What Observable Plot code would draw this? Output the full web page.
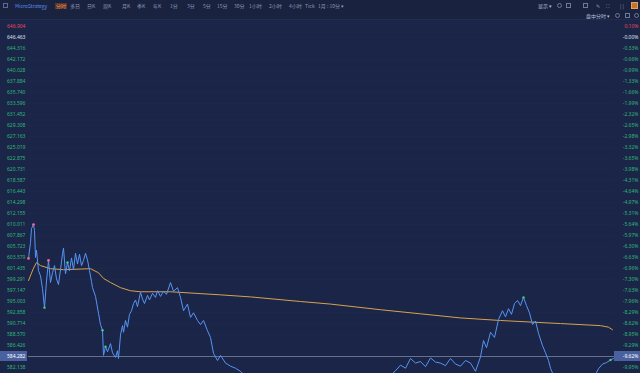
<!DOCTYPE html>
<html><head><meta charset="utf-8">
<script src="https://cdn.jsdelivr.net/npm/d3@7"></script>
<script src="https://cdn.jsdelivr.net/npm/@observablehq/plot@0.6"></script>
<style>
body{margin:0;background:#1b2548;width:640px;height:373px;overflow:hidden;font-family:"Noto Sans CJK SC","Noto Sans",sans-serif;}
#hdr{position:relative;height:20px;background:#19223f;box-sizing:border-box;border-bottom:1px solid #222c52;}
#hdr span{position:absolute;font-size:5px;line-height:6px;color:#8e98b8;white-space:nowrap;}
#chart{position:relative;height:353px;}
</style></head><body>
<div id="hdr"></div>
<div id="chart"></div>
<script>
// ---------- data ----------
const symbolName = "MicroStrategy";
const tabs = ["分时","多日","日K","周K","月K","季K","年K","1分","3分","5分","15分","30分","1小时","2小时","4小时","Tick","1月 : 10分 ▾"];
const rightTopLabels = ["显示 ▾", "盘中分时 ▾"];

// price line: [bar index, price]
const pricePts = [[0,603.4],[2,606.5],[3,609.2],[5,610.0],[6,608.8],[7,603.6],[8,605.0],[10,601.0],[12,600.0],[14,597.5],[16,593.8],[18,599.0],[20,603.0],[22,598.7],[24,600.6],[26,602.0],[28,599.4],[30,598.3],[32,601.2],[34,604.3],[35,605.4],[37,600.4],[39,602.6],[41,601.0],[43,603.5],[45,601.2],[47,604.4],[49,602.3],[51,604.2],[53,602.0],[55,603.0],[57,604.4],[59,603.1],[61,601.0],[63,598.9],[64,597.7],[67,596.0],[70,592.7],[72,590.5],[74,589.4],[75,584.5],[77,586.2],[79,585.2],[82,586.8],[84,585.0],[87,584.1],[89,585.4],[90,583.9],[92,588.5],[94,590.3],[95,589.0],[97,591.3],[99,590.0],[101,592.5],[103,593.2],[105,594.6],[107,595.3],[109,594.0],[112,596.8],[114,595.5],[116,594.6],[119,596.2],[121,595.3],[124,596.6],[127,595.8],[129,597.1],[132,596.0],[135,597.0],[138,596.4],[142,598.7],[145,597.0],[149,597.7],[152,595.8],[155,593.2],[159,594.5],[162,591.9],[165,592.8],[169,591.3],[172,590.5],[175,591.3],[179,589.3],[182,588.0],[185,584.9],[189,583.5],[192,584.5],[197,583.0],[202,582.4],[207,582.0],[212,581.4],[217,580.4],[222,579.6],[232,579.0],[252,578.6],[272,579.4],[292,578.9],[312,579.6],[332,578.7],[352,579.8],[362,580.6],[367,581.5],[372,582.6],[377,582.0],[382,583.9],[387,583.0],[392,583.3],[397,582.3],[402,584.0],[407,583.2],[412,583.0],[417,582.5],[422,583.9],[427,582.8],[432,582.4],[437,583.5],[442,583.0],[447,581.4],[452,584.2],[455,587.4],[458,586.0],[462,589.0],[466,588.0],[470,591.5],[474,593.2],[477,592.0],[480,593.6],[483,592.5],[486,594.6],[489,595.2],[492,594.2],[495,595.8],[498,594.2],[501,592.8],[504,590.5],[507,591.2],[510,588.8],[514,586.4],[517,585.0],[520,583.5],[522,582.0],[525,580.6],[532,579.6],[545,579.2],[558,579.8],[566,580.4],[570,581.9],[574,582.8],[578,583.1],[582,583.6],[585,583.9]];

// average price line
const avgPts = [[0,599.1],[5,601.5],[8,602.6],[12,602.0],[22,601.4],[35,601.2],[62,601.4],[70,600.6],[75,599.5],[82,598.7],[92,597.7],[102,597.1],[112,596.9],[142,596.9],[192,596.3],[222,595.9],[272,595.0],[302,594.5],[352,593.4],[392,592.6],[432,591.8],[472,591.3],[532,590.7],[572,590.3],[580,590.0],[584,589.5]];

const redMarks = [[0,603.4],[5,610.0],[20,603.0]];
const greenMarks = [[16,593.8],[39,602.6],[74,589.4],[77,586.2],[495,595.8],[582,583.6]];

const priceLabels = ["646.463","644.316","642.172","640.028","637.884","635.740","633.596","631.452","629.308","627.163","625.019","622.875","620.731","618.587","616.443","614.298","612.155","610.011","607.867","605.723","603.579","601.435","599.291","597.147","595.003","592.858","590.714","588.570","586.426","584.282","582.138"];
const pctLabels = ["-0.00%","-0.33%","-0.66%","-0.99%","-1.33%","-1.66%","-1.99%","-2.32%","-2.65%","-2.98%","-3.32%","-3.65%","-3.98%","-4.31%","-4.64%","-4.97%","-5.31%","-5.64%","-5.97%","-6.30%","-6.63%","-6.96%","-7.30%","-7.63%","-7.96%","-8.29%","-8.62%","-8.95%","-9.29%","-9.62%","-9.95%"];
const topPriceLabel = "646.904";
const topPctLabel = "0.10%";
const lastPrice = 584.282;
const lastIndex = 29; // row of lastPrice in the label lists

// ---------- header ----------
const hdr = d3.select("#hdr");
hdr.append("span").style("left","3px").style("top","3px").style("width","5px").style("height","5px")
  .style("border","1px solid #5d6890").style("box-sizing","border-box");
hdr.append("span").style("left","15px").style("top","3px").style("color","#5b8ef0").text(symbolName);
const tabLeft = [55,70,87,103,122,137,153,170,187,203,217,234,249,269,289,305,318];
tabs.forEach((t,i)=>{
  const s = hdr.append("span").style("left",tabLeft[i]+"px").style("top","3px").text(t);
  if(i===0) s.style("color","#ff8c3a").style("background","rgba(230,110,40,0.28)").style("padding","0 1px");
});
hdr.append("span").style("left","538px").style("top","3px").style("color","#b8c0da").text(rightTopLabels[0]);
hdr.append("span").style("left","586px").style("top","13px").style("color","#b8c0da").text(rightTopLabels[1]);
[[557,3,"50%"],[566,3,"0"],[583,3,"0"],[615,13,"50%"],[625,13,"0"],[634,13,"50%"]].forEach(([l,t,r])=>{
  hdr.append("span").style("left",l+"px").style("top",t+"px").style("width","5px").style("height","5px")
    .style("border","1px solid #6d789e").style("border-radius",r).style("box-sizing","border-box");
});
hdr.append("span").style("left","596px").style("top","3px").text("✎");
hdr.append("span").style("left","606px").style("top","3px").text("⛶");
hdr.append("span").style("left","620px").style("top","3px").text("| |");
hdr.append("span").style("left","631px").style("top","2px").style("width","7px").style("height","7px")
  .style("background","#c8742e").style("box-sizing","border-box").style("border","1px solid #e8a060");

// ---------- chart ----------
const tickVals = priceLabels.map(Number);
const green = "#2fb878";
const chart = Plot.plot({
  width: 640, height: 353,
  marginLeft: 28, marginRight: 26, marginTop: 0, marginBottom: 0,
  style: {background: "transparent", fontFamily: "'Noto Sans','DejaVu Sans',sans-serif", fontSize: "5px"},
  x: {domain: [0, 586], axis: null},
  y: {domain: [580.968, 649.777], axis: null},
  color: {type: "identity"},
  marks: [
    Plot.ruleY(tickVals, {stroke: "#202b52", strokeWidth: 0.5}),
    Plot.ruleY([lastPrice], {stroke: "#c9cfe0", strokeWidth: 0.6, strokeOpacity: 0.75}),
    Plot.line(avgPts, {x: d=>d[0], y: d=>d[1], stroke: "#d8a24c", strokeWidth: 1, clip: true}),
    Plot.line(pricePts, {x: d=>d[0], y: d=>d[1], stroke: "#5594f5", strokeWidth: 1, clip: true}),
    Plot.dot(redMarks, {x: d=>d[0], y: d=>d[1], r: 1.4, fill: "#f06a86"}),
    Plot.dot(greenMarks, {x: d=>d[0], y: d=>d[1], r: 1.2, fill: "#3fd08a"}),
    Plot.text(priceLabels, {y: d=>+d, text: d=>d, frameAnchor: "left", dx: -3, textAnchor: "end",
      fill: (d,i)=> i===0 ? "#dfe3ee" : (i===lastIndex ? "#ffffff" : green)}),
    Plot.text(pctLabels, {y: (d,i)=>tickVals[i], text: d=>d, frameAnchor: "right", dx: 24, textAnchor: "end",
      fill: (d,i)=> i===0 ? "#dfe3ee" : (i===lastIndex ? "#ffffff" : green)}),
    Plot.text([topPriceLabel], {text: d=>d, frameAnchor: "top-left", dx: -3, dy: 6, textAnchor: "end", lineAnchor: "middle", fill: "#e5475b"}),
    Plot.text([topPctLabel], {text: d=>d, frameAnchor: "top-right", dx: 24, dy: 6, textAnchor: "end", lineAnchor: "middle", fill: "#e5475b"})
  ]
});
document.getElementById("chart").appendChild(chart);

// highlight boxes for the last price row, positioned by the y scale
const yPix = chart.scale("y").apply(lastPrice);
const svg = d3.select(chart);
svg.insert("rect", ":first-child").attr("x", 0).attr("y", yPix-5).attr("width", 27).attr("height", 10).attr("fill", "#5b76bd").attr("opacity", 0.75);
svg.insert("rect", ":first-child").attr("x", 614).attr("y", yPix-5).attr("width", 26).attr("height", 10).attr("fill", "#5b76bd").attr("opacity", 0.75);
</script>
</body></html>
